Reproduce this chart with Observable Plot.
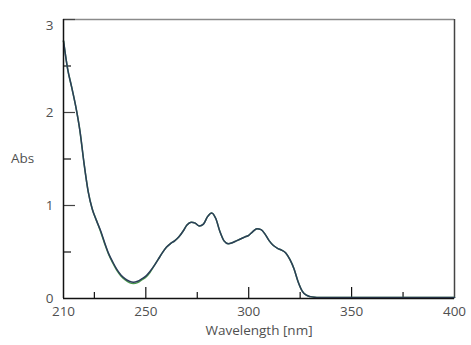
<!DOCTYPE html>
<html>
<head>
<meta charset="utf-8">
<script src="https://cdn.jsdelivr.net/npm/d3@7"></script>
<script src="https://cdn.jsdelivr.net/npm/@observablehq/plot@0.6"></script>
<style>
  html, body { margin: 0; padding: 0; background: #fff; }
  #chart svg { display: block; }
</style>
</head>
<body>
<div id="chart"></div>
<script>
const wavelength = [210, 212, 214, 216, 218, 220, 222, 224, 226, 228, 230, 232, 234, 236, 238, 240, 242, 244, 246, 248, 250, 252, 254, 256, 258, 260, 262, 264, 266, 268, 270, 272, 274, 276, 278, 280, 282, 284, 286, 288, 290, 292, 294, 296, 298, 300, 302, 304, 306, 308, 310, 312, 314, 316, 318, 320, 322, 324, 326, 328, 330, 332, 334, 336, 340, 350, 360, 370, 380, 390, 400];
const absNavy = [2.77, 2.47, 2.27, 2.06, 1.80, 1.45, 1.15, 0.96, 0.84, 0.73, 0.60, 0.48, 0.39, 0.31, 0.25, 0.21, 0.185, 0.175, 0.185, 0.21, 0.24, 0.29, 0.35, 0.42, 0.49, 0.55, 0.59, 0.62, 0.66, 0.72, 0.79, 0.82, 0.81, 0.78, 0.80, 0.88, 0.92, 0.86, 0.72, 0.62, 0.59, 0.60, 0.62, 0.64, 0.66, 0.68, 0.72, 0.75, 0.74, 0.69, 0.62, 0.57, 0.54, 0.52, 0.49, 0.42, 0.32, 0.18, 0.08, 0.035, 0.02, 0.013, 0.01, 0.01, 0.01, 0.01, 0.01, 0.01, 0.01, 0.01, 0.01];
const absGreen = [2.77, 2.47, 2.27, 2.06, 1.80, 1.45, 1.15, 0.96, 0.84, 0.72, 0.59, 0.47, 0.38, 0.30, 0.24, 0.20, 0.17, 0.16, 0.17, 0.20, 0.23, 0.28, 0.35, 0.42, 0.49, 0.55, 0.59, 0.62, 0.66, 0.72, 0.79, 0.82, 0.81, 0.78, 0.80, 0.88, 0.92, 0.86, 0.72, 0.62, 0.59, 0.60, 0.62, 0.64, 0.66, 0.68, 0.72, 0.75, 0.74, 0.69, 0.62, 0.57, 0.54, 0.52, 0.49, 0.42, 0.32, 0.18, 0.08, 0.035, 0.02, 0.013, 0.01, 0.01, 0.01, 0.01, 0.01, 0.01, 0.01, 0.01, 0.01];
const xTickLabels = [210, 250, 300, 350, 400];
const xMajorTicks = [250, 300, 350];
const xMinorTicks = [225, 275, 325, 375];
const yTickLabels = [0, 1, 2];
const yTopLabel = [3];
const yMajorTicks = [1, 2, 3];
const yMinorTicks = [0.5, 1.5, 2.5];

const navy = wavelength.map((w, i) => ({w, a: absNavy[i]}));
const green = wavelength.map((w, i) => ({w, a: absGreen[i]}));

const W = 471, H = 345, mL = 63, mR = 17, mT = 19, mB = 47;
const innerW = W - mL - mR, innerH = H - mT - mB;
const txt = "#505050";
const font = "'Open Sans', Lato, sans-serif";

const chart = Plot.plot({
  width: W, height: H,
  marginLeft: mL, marginRight: mR, marginTop: mT, marginBottom: mB,
  style: {fontFamily: font, fontSize: "13.5px", color: txt, background: "#fff"},
  x: {domain: [210, 400]},
  y: {domain: [0, 3]},
  marks: [
    Plot.ruleY([3], {stroke: "#8a8a8a", strokeWidth: 1.5}),
    Plot.ruleX([400], {stroke: "#444", strokeWidth: 1.5}),
    Plot.tickX(xMajorTicks, {stroke: "#111", strokeWidth: 1.2, insetTop: innerH - 11}),
    Plot.tickX(xMinorTicks, {stroke: "#111", strokeWidth: 1.2, insetTop: innerH - 6}),
    Plot.tickY(yMajorTicks, {stroke: "#444", strokeWidth: 1.2, insetRight: innerW - 12}),
    Plot.tickY(yMinorTicks, {stroke: "#111", strokeWidth: 1.2, insetRight: innerW - 8}),
    Plot.line(green, {x: "w", y: "a", stroke: "#4c9a4c", strokeWidth: 1.5, curve: "monotone-x"}),
    Plot.line(navy, {x: "w", y: "a", stroke: "#2c3d5b", strokeWidth: 1.5, curve: "monotone-x"}),
    Plot.ruleX([210], {stroke: "#111", strokeWidth: 1.5}),
    Plot.ruleY([0], {stroke: "#111", strokeWidth: 1.5}),
    Plot.axisX(xTickLabels, {tickSize: 0, tickPadding: 8, tickFormat: "d", label: null, fill: txt, fontSize: 13.5}),
    Plot.axisY(yTickLabels, {tickSize: 0, tickPadding: 10, tickFormat: "d", label: null, fill: txt, fontSize: 13.5}),
    Plot.axisY(yTopLabel, {tickSize: 0, tickPadding: 10, tickFormat: "d", label: null, fill: txt, fontSize: 13.5, dy: 6}),
    Plot.text(["Abs"], {frameAnchor: "left", dx: -41, textAnchor: "middle", fill: txt, fontSize: 13.5}),
    Plot.text(["Wavelength [nm]"], {frameAnchor: "bottom", dy: 36, textAnchor: "middle", fill: txt, fontSize: 13.5})
  ]
});
document.getElementById("chart").append(chart);
</script>
</body>
</html>
